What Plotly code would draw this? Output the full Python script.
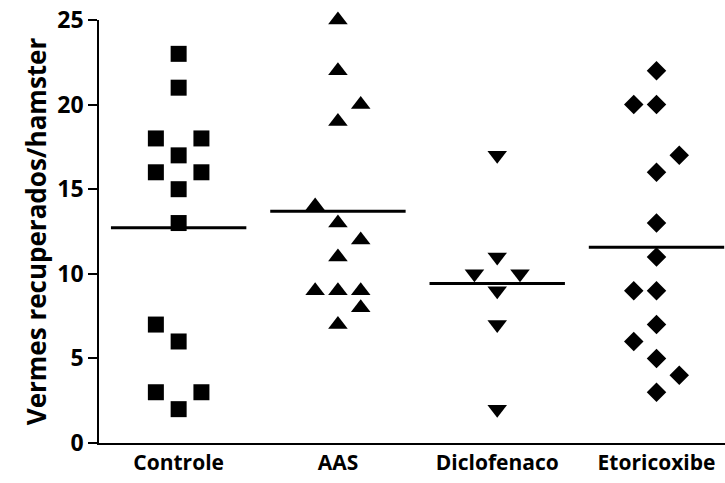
import numpy as np
import plotly.graph_objects as go

categories = ["Controle", "AAS", "Diclofenaco", "Etoricoxibe"]
controle = [23, 21, 18, 18, 17, 16, 16, 15, 13, 7, 6, 3, 3, 2]
controle_col = [0, 0, -1, 1, 0, -1, 1, 0, 0, -1, 0, -1, 1, 0]
aas = [25, 22, 20, 19, 14, 13, 12, 11, 9, 9, 9, 8, 7]
aas_col = [0, 0, 1, 0, -1, 0, 1, 0, -1, 0, 1, 1, 0]
diclofenaco = [17, 11, 10, 10, 9, 7, 2]
diclofenaco_col = [0, 0, -1, 1, 0, 0, 0]
etoricoxibe = [22, 20, 20, 17, 16, 13, 11, 9, 9, 7, 6, 5, 4, 3]
etoricoxibe_col = [0, -1, 0, 1, 0, 0, 0, -1, 0, 0, -1, 0, 1, 0]
y_ticks = [0, 5, 10, 15, 20, 25]

series = [controle, aas, diclofenaco, etoricoxibe]
cols = [controle_col, aas_col, diclofenaco_col, etoricoxibe_col]
symbols = ["square", "triangle-up", "triangle-down", "diamond"]
sizes = [16, 17, 17, 15]

JIT = 0.143
HALF = 0.425

fig = go.Figure()
for i, (vals, cc, sym, sz) in enumerate(zip(series, cols, symbols, sizes)):
    xs = [i + c * JIT for c in cc]
    fig.add_trace(go.Scatter(
        x=xs, y=vals, mode="markers",
        marker=dict(symbol=sym, size=sz, color="black", line=dict(width=0)),
        cliponaxis=False, showlegend=False))
    m = float(np.mean(vals))
    fig.add_trace(go.Scatter(
        x=[i - HALF, i + HALF], y=[m, m], mode="lines",
        line=dict(color="black", width=3),
        cliponaxis=False, showlegend=False))

font_family = "Open Sans"
fig.update_layout(
    width=725, height=483,
    margin=dict(l=99, r=0, t=20, b=40),
    paper_bgcolor="white", plot_bgcolor="white",
    font=dict(family=font_family, color="black"),
)
fig.update_xaxes(
    range=[-0.5, 3.43],
    tickmode="array", tickvals=list(range(len(categories))), ticktext=categories,
    ticks="", showgrid=False, zeroline=False,
    showline=True, linecolor="black", linewidth=1.5,
    tickfont=dict(size=21, family=font_family, weight="bold"),
)
fig.update_yaxes(
    range=[0, 25],
    tickmode="array", tickvals=y_ticks,
    ticks="outside", ticklen=9, tickwidth=1.5, tickcolor="black",
    showgrid=False, zeroline=False,
    showline=True, linecolor="black", linewidth=1.5,
    tickfont=dict(size=23, family=font_family, weight="bold"),
    title=dict(text="Vermes recuperados/hamster",
               font=dict(size=26, family=font_family, weight="bold"), standoff=3),
)
fig.write_html("out.html")
